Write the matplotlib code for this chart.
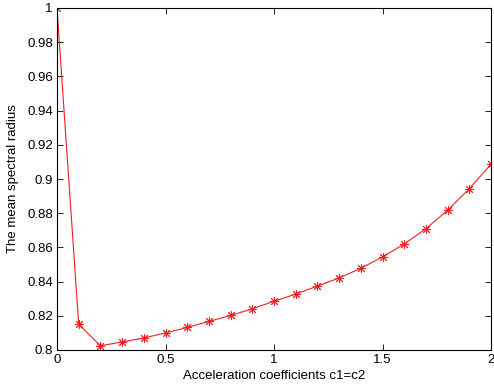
import matplotlib
matplotlib.use("Agg")
import matplotlib.pyplot as plt
import numpy as np

# acceleration coefficients c1 = c2
coeffs = [0.0, 0.1, 0.2, 0.3, 0.4, 0.5, 0.6, 0.7, 0.8, 0.9, 1.0,
          1.1, 1.2, 1.3, 1.4, 1.5, 1.6, 1.7, 1.8, 1.9, 2.0]
# mean spectral radius
radius = [1.0, 0.815, 0.8025, 0.8047, 0.807, 0.810, 0.8132, 0.8167, 0.8202,
          0.8241, 0.8285, 0.8327, 0.8374, 0.8421, 0.8478, 0.8544, 0.8620,
          0.8709, 0.8817, 0.8943, 0.9086]

xticks = [0, 0.5, 1, 1.5, 2]
yticks = [0.8, 0.82, 0.84, 0.86, 0.88, 0.9, 0.92, 0.94, 0.96, 0.98, 1]
yticklabels = ["0.8", "0.82", "0.84", "0.86", "0.88", "0.9",
               "0.92", "0.94", "0.96", "0.98", "1"]

plt.rcParams["font.family"] = ["Liberation Sans", "DejaVu Sans"]
plt.rcParams["font.size"] = 9.5

fig = plt.figure(figsize=(4.94, 3.91), dpi=100)
ax = fig.add_axes([57 / 494, 41 / 391, 434 / 494, 342 / 391])

# matlab-style asterisk marker
ax.plot(coeffs, radius, color="#f02020", linewidth=0.8, marker=(8, 2, 0),
        markersize=6.5, markeredgewidth=0.7)

ax.set_xlim(0, 2)
ax.set_ylim(0.8, 1)
ax.set_xticks(xticks)
ax.set_xticklabels(["0", "0.5", "1", "1.5", "2"])
ax.set_yticks(yticks)
ax.set_yticklabels(yticklabels)
ax.tick_params(direction="in", top=True, right=True, length=4, width=0.6, pad=3)
for s in ax.spines.values():
    s.set_linewidth(0.8)

ax.set_xlabel("Acceleration coefficients c1=c2", labelpad=3)
ax.set_ylabel("The mean spectral radius", labelpad=6)

fig.savefig("out.png", dpi=100)
